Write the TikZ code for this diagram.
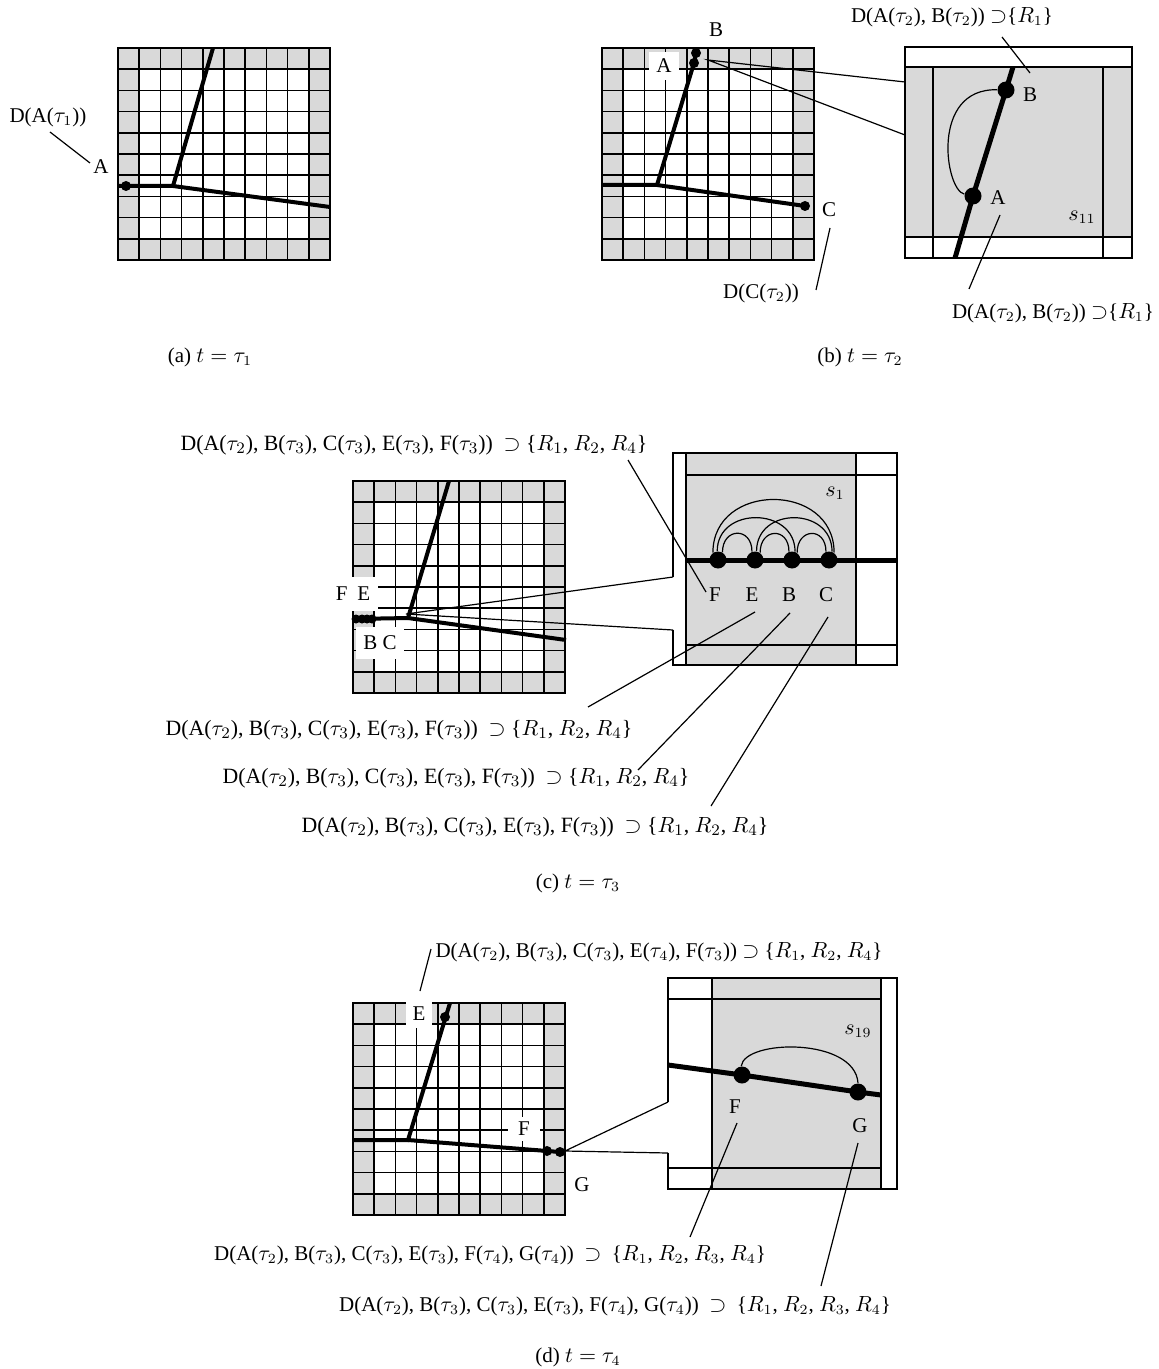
\documentclass[tikz,border=0pt]{standalone}
\usepackage{fontspec}
\setmainfont{Liberation Serif}
\usetikzlibrary{positioning}

\begin{document}
\begin{tikzpicture}[x=0.5pt, y=-0.5pt,
    lbl/.style={font=\fontsize{10.5}{12}\selectfont, inner sep=1pt},
    widelbl/.style={lbl, font=\fontsize{10.9}{13}\selectfont},
    tag/.style={lbl, fill=white, inner xsep=3.5pt, inner ysep=3.5pt},
    cell/.style={line width=0.75pt},
    rim/.style={line width=1pt},
    road/.style={line width=2pt},
    bigroad/.style={line width=2.5pt},
    lead/.style={line width=0.6pt},
    dot/.style={circle, fill, inner sep=0pt, minimum size=5pt},
    tinydot/.style={dot, minimum size=4.5pt},
    bigdot/.style={dot, minimum size=8.5pt}]
  \useasboundingbox (0,0) rectangle (1158,1369);

  % the four grids
  \foreach \gx/\gy in {118/48, 602/48, 353/481, 353/1003} {
    \begin{scope}[shift={(\gx,\gy)}]
      \fill[black!15] (0,0) rectangle (212,212);
      \fill[white] (21.2,21.2) rectangle (190.8,190.8);
      \foreach \i in {1,...,9}
        \draw[cell] (\i*21.2,0) -- (\i*21.2,212) (0,\i*21.2) -- (212,\i*21.2);
      \draw[rim] (0,0) rectangle (212,212);
    \end{scope}
  }

  % (a)
  \coordinate (Ja) at (173,186);
  \draw[road] (118,186) -- (Ja) -- (213,48);
  \draw[road] (Ja) -- (330,207);
  \node[dot] (aA) at (126,186) {};
  \node[lbl] (laA) at (101,167) {A};
  \node[lbl] (DaA) at (48,117) {D(A($\tau_1$))};
  \coordinate (la1) at (50,132);
  \coordinate (la2) at (90,163);
  \draw[lead] (la1) -- (la2);
  \node[lbl] (capa) at (210,357) {(a) $t = \tau_1$};

  % (b)
  \coordinate (Jb) at (657,185);
  \node[dot] (bB) at (696,53) {};
  \node[dot] (bA) at (694,63) {};
  \node[dot] (bC) at (805,206) {};
  \draw[road] (602,185) -- (Jb) -- (bA.center) -- (bB.center);
  \draw[road] (Jb) -- (bC.center);
  \node[tag] (tbA) at (664,66) {A};
  \node[lbl] (lbB) at (716,30) {B};
  \node[lbl] (lbC) at (829,210) {C};
  \node[lbl] (DbC) at (761,293) {D(C($\tau_2$))};
  \coordinate (lc1) at (830,228);
  \coordinate (lc2) at (816,290);
  \draw[lead] (lc1) -- (lc2);
  \coordinate (zb) at (708,60);
  \coordinate (zb1) at (905,82);
  \coordinate (zb2) at (905,135);
  \draw[lead] (zb1) -- (zb) -- (zb2);
  \begin{scope}[shift={(905,47)}]
    \fill[black!15] (0,20) rectangle (227,190);
    \draw[rim] (0,0) rectangle (227,211);
    \draw[rim] (0,20) -- (227,20) (0,190) -- (227,190);
    \draw[rim] (28,20) -- (28,211) (198,20) -- (198,211);
  \end{scope}
  \node[bigdot] (zA) at (973,196) {};
  \node[bigdot] (zB) at (1006,90) {};
  \draw[bigroad] (955,258) -- (zA.center) -- (zB.center) -- (1013,67);
  \draw[lead] (zB) .. controls (930,88) and (945,190) .. (zA);
  \node[lbl] (lzB) at (1030,95) {B};
  \node[lbl] (lzA) at (998,198) {A};
  \node[lbl] (s11) at (1082,217) {$s_{11}$};
  \node[lbl] (DbT) at (952,17) {D(A($\tau_2$), B($\tau_2$)) $\supset$\{$R_1$\}};
  \node[lbl] (DbD) at (1053,313) {D(A($\tau_2$), B($\tau_2$)) $\supset$\{$R_1$\}};
  \coordinate (lt1) at (1002,37);
  \coordinate (lt2) at (1030,73);
  \draw[lead] (lt1) -- (lt2);
  \coordinate (ld1) at (1000,215);
  \coordinate (ld2) at (969,289);
  \draw[lead] (ld1) -- (ld2);
  \node[lbl] (capb) at (860,357) {(b) $t = \tau_2$};

  % (c)
  \coordinate (Jc) at (408,618);
  \draw[road] (353,619) -- (Jc) -- (449,481);
  \draw[road] (Jc) -- (566,640);
  \foreach \x/\n in {356/F, 362/E, 367/B, 372/C}
    \node[tinydot] (c\n) at (\x,619) {};
  \node[tag, inner xsep=3.75pt, inner ysep=5pt] (tcFE) at (353,594) {F\hspace{5pt}E};
  \node[tag, inner xsep=3.75pt, inner ysep=4.5pt] (tcBC) at (380,643) {B C};
  \coordinate (zc) at (406,614);
  \fill[black!15] (686,453) rectangle (856,665);
  \draw[cell] (686,475) -- (897,475) (686,645) -- (897,645) (856,453) -- (856,665);
  \draw[rim] (686,453) -- (686,665);
  \draw[rim] (673,577) -- (673,453) -- (897,453) -- (897,665) -- (673,665) -- (673,630);
  \draw[lead] (673,577) -- (zc) -- (673,630);
  \draw[bigroad] (686,560) -- (897,560);
  \foreach \x/\n in {718/F, 755/E, 792/B, 829/C} {
    \node[bigdot] (z\n) at (\x,560) {};
    \node[lbl] (lz\n) at (\x-3,595) {\n};
  }
  \draw[lead] (zF.125) .. controls +(0,-71) and +(0,-71) .. (zC.55);
  \draw[lead] (zF.95) .. controls +(0,-45) and +(0,-45) .. (zB.70);
  \draw[lead] (zE.80) .. controls +(0,-45) and +(0,-45) .. (zC.70);
  \draw[lead] (zF.60) .. controls +(0,-25) and +(0,-25) .. (zE.110);
  \draw[lead] (zE.55) .. controls +(0,-25) and +(0,-25) .. (zB.110);
  \draw[lead] (zB.55) .. controls +(0,-25) and +(0,-25) .. (zC.110);
  \node[lbl] (s1) at (835,493) {$s_1$};
  \node[widelbl] (Dc0) at (414,445) {D(A($\tau_2$), B($\tau_3$), C($\tau_3$), E($\tau_3$), F($\tau_3$))\ \ $\supset$ \{$R_1$, $R_2$, $R_4$\}};
  \node[widelbl] (Dc1) at (399,730) {D(A($\tau_2$), B($\tau_3$), C($\tau_3$), E($\tau_3$), F($\tau_3$))\ \ $\supset$ \{$R_1$, $R_2$, $R_4$\}};
  \node[widelbl] (Dc2) at (456,778) {D(A($\tau_2$), B($\tau_3$), C($\tau_3$), E($\tau_3$), F($\tau_3$))\ \ $\supset$ \{$R_1$, $R_2$, $R_4$\}};
  \node[widelbl] (Dc3) at (535,827) {D(A($\tau_2$), B($\tau_3$), C($\tau_3$), E($\tau_3$), F($\tau_3$))\ \ $\supset$ \{$R_1$, $R_2$, $R_4$\}};
  \coordinate (lF1) at (628,460);
  \coordinate (lF2) at (706,592);
  \coordinate (lE1) at (755,612);
  \coordinate (lE2) at (588,707);
  \coordinate (lB1) at (790,613);
  \coordinate (lB2) at (638,770);
  \coordinate (lC1) at (828,617);
  \coordinate (lC2) at (711,806);
  \draw[lead] (lF1) -- (lF2) (lE1) -- (lE2) (lB1) -- (lB2) (lC1) -- (lC2);
  \node[lbl] (capc) at (578,883) {(c) $t = \tau_3$};

  % (d)
  \coordinate (Jd) at (408,1140);
  \node[dot] (dE) at (445,1017) {};
  \node[dot] (dF) at (547,1151) {};
  \node[dot] (dG) at (560,1152) {};
  \draw[road] (353,1140) -- (Jd) -- (450,1003);
  \draw[road] (Jd) -- (dG.center);
  \node[tag] (tdE) at (419,1014) {E};
  \node[tag, inner xsep=5pt, inner ysep=2.5pt] (tdF) at (524,1129) {F};
  \node[lbl] (ldG) at (582,1185) {G};
  \coordinate (zd) at (565,1151);
  \fill[black!15] (712,978) rectangle (881,1189);
  \draw[cell] (668,999) -- (881,999) (668,1168) -- (881,1168) (712,978) -- (712,1189);
  \draw[rim] (881,978) -- (881,1189);
  \draw[rim] (668,1102) -- (668,978) -- (897,978) -- (897,1189) -- (668,1189) -- (668,1153);
  \draw[lead] (668,1102) -- (zd) -- (668,1153);
  \node[bigdot] (zdF) at (742,1075) {};
  \node[bigdot] (zdG) at (858,1092) {};
  \draw[bigroad] (668,1065) -- (zdF.center) -- (zdG.center) -- (881,1095);
  \draw[lead] (zdF.95) .. controls +(3,-27) and +(-3,-46) .. (zdG.90);
  \node[lbl] (lzdF) at (735,1107) {F};
  \node[lbl] (lzdG) at (860,1126) {G};
  \node[lbl] (s19) at (858,1031) {$s_{19}$};
  \node[lbl] (Dd0) at (659,952) {D(A($\tau_2$), B($\tau_3$), C($\tau_3$), E($\tau_4$), F($\tau_3$)) $\supset$ \{$R_1$, $R_2$, $R_4$\}};
  \node[lbl] (Dd1) at (490,1255) {D(A($\tau_2$), B($\tau_3$), C($\tau_3$), E($\tau_3$), F($\tau_4$), G($\tau_4$))\ \ $\supset$\ \ \{$R_1$, $R_2$, $R_3$, $R_4$\}};
  \node[lbl] (Dd2) at (615,1306) {D(A($\tau_2$), B($\tau_3$), C($\tau_3$), E($\tau_3$), F($\tau_4$), G($\tau_4$))\ \ $\supset$\ \ \{$R_1$, $R_2$, $R_3$, $R_4$\}};
  \coordinate (lE3) at (420,991);
  \coordinate (lE4) at (431,949);
  \coordinate (ldF1) at (737,1123);
  \coordinate (ldF2) at (690,1237);
  \coordinate (ldG1) at (858,1143);
  \coordinate (ldG2) at (821,1286);
  \draw[lead] (lE3) -- (lE4) (ldF1) -- (ldF2) (ldG1) -- (ldG2);
  \node[lbl] (capd) at (578,1357) {(d) $t = \tau_4$};
\end{tikzpicture}
\end{document}
